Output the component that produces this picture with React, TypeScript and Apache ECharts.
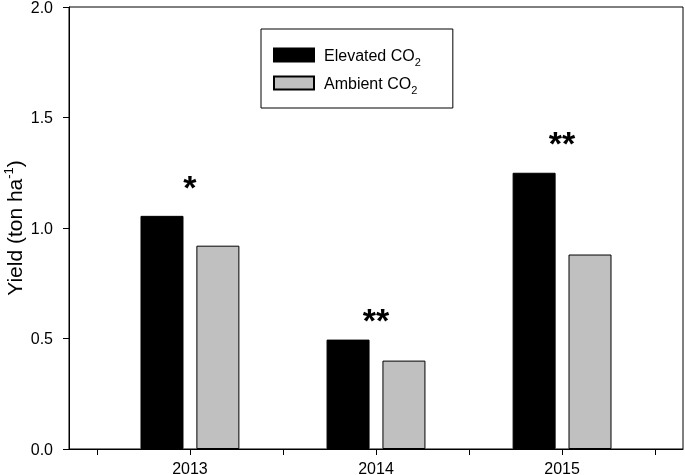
import React, { useEffect, useRef } from "react";
import * as echarts from "echarts";

const years = [2013, 2014, 2015];
const elevated = [1.055, 0.495, 1.25];
const ambient = [0.92, 0.4, 0.88];
const stars = ["*", "**", "**"];
const starLevels = [1.185, 0.585, 1.385];
const xTicks = [2012.5, 2013, 2013.5, 2014, 2014.5, 2015, 2015.5];
const xLabels = [2013, 2014, 2015];
const seriesNames = ["Elevated CO2", "Ambient CO2"];

const FONT = "Liberation Sans, Arial, sans-serif";

export default function App() {
  const ref = useRef<HTMLDivElement>(null);
  useEffect(() => {
    const chart = echarts.init(ref.current!, null, { renderer: "svg" });
    chart.setOption({
      animation: false,
      textStyle: { fontFamily: FONT },
      grid: {
        left: 69,
        right: 2,
        top: 7,
        bottom: 26,
        containLabel: false,
        outerBoundsMode: "none",
        show: true,
        borderColor: "#000",
        borderWidth: 1,
        backgroundColor: "transparent",
      },
      legend: {
        data: seriesNames,
        orient: "vertical",
        left: 261,
        top: 29,
        padding: [18, 32, 13, 12],
        borderColor: "#000",
        borderWidth: 1,
        itemWidth: 40,
        itemHeight: 13,
        itemGap: 8,
        icon: "rect",
        formatter: (name: string) => "{a|" + name.slice(0, -1) + "}{sub|2}",
        textStyle: {
          color: "#000",
          fontFamily: FONT,
          padding: [0, 0, 0, 5],
          rich: {
            a: { fontSize: 16, lineHeight: 24, color: "#000", fontFamily: FONT },
            sub: { fontSize: 11, lineHeight: 13, verticalAlign: "bottom", color: "#000", fontFamily: FONT },
          },
        },
      },
      xAxis: {
        type: "value",
        min: 2012.35,
        max: 2015.65,
        splitLine: { show: false },
        axisLine: { lineStyle: { color: "#000", width: 1 } },
        axisTick: { customValues: xTicks, length: 6, lineStyle: { color: "#000" } },
        axisLabel: {
          customValues: xLabels,
          fontSize: 16,
          color: "#000",
          fontFamily: FONT,
          margin: 11,
          formatter: (v: number) => String(v),
        },
      },
      yAxis: {
        type: "value",
        min: 0,
        max: 2,
        interval: 0.5,
        splitLine: { show: false },
        axisLine: { show: true, lineStyle: { color: "#000", width: 1 } },
        axisTick: { show: true, length: 6, lineStyle: { color: "#000" } },
        axisLabel: {
          fontSize: 16,
          color: "#000",
          fontFamily: FONT,
          margin: 16,
          formatter: (v: number) => v.toFixed(1),
        },
        name: "{a|Yield (ton ha}{sup|-1}{a|)}",
        nameLocation: "middle",
        nameGap: 43,
        nameMoveOverlap: false,
        nameTextStyle: {
          rich: {
            a: { fontSize: 21, lineHeight: 24, color: "#000", fontFamily: FONT },
            sup: { fontSize: 13, lineHeight: 12, verticalAlign: "top", color: "#000", fontFamily: FONT },
          },
        },
      },
      series: [
        {
          name: seriesNames[0],
          type: "bar",
          data: years.map((y, i) => [y, elevated[i]]),
          barWidth: 43,
          barGap: "30%",
          itemStyle: { color: "#000", borderColor: "#000", borderWidth: 1 },
        },
        {
          name: seriesNames[1],
          type: "bar",
          data: years.map((y, i) => [y, ambient[i]]),
          barWidth: 43,
          barGap: "30%",
          itemStyle: { color: "#c0c0c0", borderColor: "#000", borderWidth: 1 },
        },
        {
          name: "sig",
          type: "scatter",
          data: years.map((y, i) => [y, starLevels[i]]),
          symbolSize: 1,
          itemStyle: { color: "transparent", opacity: 1 },
          label: {
            show: true,
            position: "inside",
            formatter: (p: any) => stars[p.dataIndex],
            fontSize: 34,
            fontWeight: "bold",
            color: "#000",
            opacity: 1,
            textBorderWidth: 0,
            fontFamily: FONT,
          },
          z: 10,
        },
      ],
    });
    return () => chart.dispose();
  }, []);
  return (
    <div
      ref={ref}
      style={{ position: "fixed", left: 0, top: 0, width: 685, height: 475 }}
    />
  );
}
